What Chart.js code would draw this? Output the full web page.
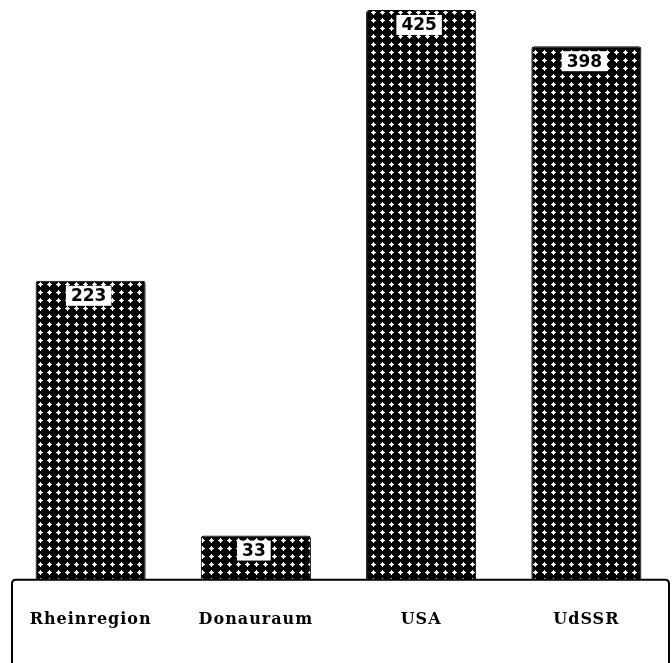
<!DOCTYPE html>
<html>
<head>
<meta charset="utf-8">
<style>
  html, body { margin: 0; padding: 0; background: #fff; }
  #wrap { width: 672px; height: 663px; }
</style>
<script src="https://cdn.jsdelivr.net/npm/chart.js@4/dist/chart.umd.min.js"></script>
</head>
<body>
<div id="wrap"><canvas id="c" width="672" height="663"></canvas></div>
<script>
const regions = ['Rheinregion', 'Donauraum', 'USA', 'UdSSR'];
const values = [223, 33, 425, 398];

// Black fill with a grid of small white dots
function dotPattern() {
  const p = document.createElement('canvas');
  p.width = 9; p.height = 8;
  const g = p.getContext('2d');
  g.fillStyle = '#000';
  g.fillRect(0, 0, 9, 8);
  g.fillStyle = '#ccc';
  g.fillRect(3, 3, 3, 3);
  g.fillStyle = '#fff';
  g.fillRect(4, 2, 1, 5);
  g.fillRect(2, 4, 5, 1);
  g.fillRect(4, 4, 1, 1);
  return document.getElementById('c').getContext('2d').createPattern(p, 'repeat');
}

// Slightly wider letter spacing for the category labels
const spacingPlugin = {
  id: 'spacing',
  beforeDraw(chart) { chart.ctx.letterSpacing = '1px'; },
  afterDraw(chart) { chart.ctx.letterSpacing = '0px'; }
};

// Open-topped frame below the bars
const framePlugin = {
  id: 'frame',
  afterDraw(chart) {
    const { ctx, chartArea } = chart;
    const y0 = chart.scales.y.getPixelForValue(0);
    const l = chartArea.left + 4, r = chartArea.right;
    ctx.save();
    ctx.letterSpacing = '0px';
    ctx.strokeStyle = '#000';
    ctx.lineWidth = 2;
    ctx.beginPath();
    ctx.moveTo(l, chart.height + 2);
    ctx.lineTo(l, y0 + 4);
    ctx.quadraticCurveTo(l, y0, l + 4, y0);
    ctx.lineTo(r - 4, y0);
    ctx.quadraticCurveTo(r, y0, r, y0 + 4);
    ctx.lineTo(r, chart.height + 2);
    ctx.stroke();
    ctx.restore();
  }
};

// White value boxes near the top of each bar
const valuePlugin = {
  id: 'valueBoxes',
  afterDatasetsDraw(chart) {
    const { ctx } = chart;
    const meta = chart.getDatasetMeta(0);
    ctx.save();
    ctx.letterSpacing = '0px';
    ctx.font = 'bold 17px "DejaVu Sans"';
    ctx.textAlign = 'center';
    ctx.textBaseline = 'middle';
    meta.data.forEach((bar, i) => {
      const txt = String(values[i]);
      const w = ctx.measureText(txt).width + 10;
      const cx = bar.x - 2;
      const cy = bar.y + 15;
      ctx.fillStyle = '#fff';
      ctx.fillRect(cx - w / 2, cy - 10, w, 20);
      ctx.fillStyle = '#000';
      ctx.fillText(txt, cx, cy + 1);
    });
    ctx.restore();
  }
};

new Chart(document.getElementById('c'), {
  type: 'bar',
  data: {
    labels: regions,
    datasets: [{
      data: values,
      backgroundColor: dotPattern(),
      borderColor: '#000',
      borderWidth: 1,
      borderRadius: { topLeft: 3, topRight: 3 },
      borderSkipped: 'bottom',
      barPercentage: 0.666,
      categoryPercentage: 1.0
    }]
  },
  options: {
    responsive: false,
    animation: false,
    events: [],
    layout: { padding: { top: 10, left: 8, right: 3, bottom: 4 } },
    plugins: { legend: { display: false }, tooltip: { enabled: false } },
    scales: {
      x: {
        grid: { display: false, drawTicks: false },
        border: { display: false },
        ticks: {
          padding: 30,
          color: '#000',
          font: { family: '"DejaVu Serif"', weight: 'bold', size: 16 }
        }
      },
      y: { display: false, min: 0, max: 425 }
    }
  },
  plugins: [spacingPlugin, framePlugin, valuePlugin]
});
</script>
</body>
</html>
